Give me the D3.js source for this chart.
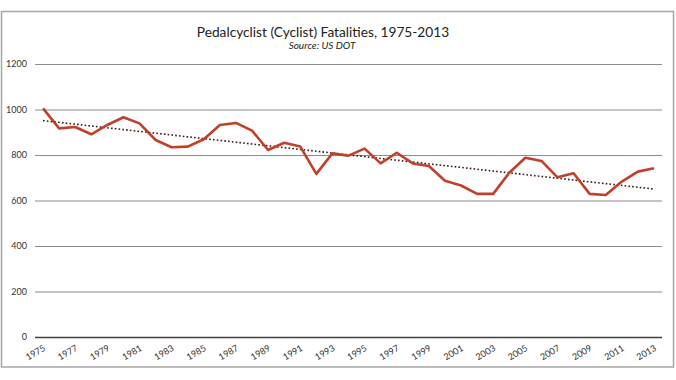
<!DOCTYPE html>
<html><head><meta charset="utf-8">
<script src="https://cdn.jsdelivr.net/npm/d3@7"></script>
<style>body{margin:0;background:#fff;} svg{display:block;}</style>
</head><body>
<svg id="c" width="676" height="380"></svg>
<script>
const years = d3.range(1975, 2014);
const fatalities = [1005, 917, 923, 891, 932, 966, 939, 866, 834, 837, 869, 932, 941, 907, 822, 854, 837, 717, 807, 797, 828, 763, 810, 763, 752, 687, 666, 629, 629, 722, 788, 774, 702, 720, 629, 624, 683, 727, 742];
const yTicks = [0, 200, 400, 600, 800, 1000, 1200];
const xTickLabels = years.filter((y, i) => i % 2 === 0);
const title = "Pedalcyclist (Cyclist) Fatalities, 1975-2013";
const subtitle = "Source:  US DOT";

const svg = d3.select("#c");
const font = "Lato, 'Open Sans', sans-serif";
const L = 35, R = 662, T = 64, B = 337;

svg.append("rect").attr("x", 1.5).attr("y", 11.5).attr("width", 672).attr("height", 355.5)
  .attr("fill", "#fff").attr("stroke", "#a6a6a6").attr("stroke-width", 1.5);

const x = d3.scaleBand().domain(years).range([L, R]);
const y = d3.scaleLinear().domain([0, 1200]).range([B, T]);
const cx = d => x(d) + x.bandwidth() / 2;

// gridlines
const yAxis = d3.axisLeft(y).tickValues(yTicks).tickFormat(d3.format("d")).tickSize(-(R - L)).tickPadding(8);
const gy = svg.append("g").attr("transform", `translate(${L},0)`).call(yAxis);
gy.select(".domain").remove();
gy.selectAll(".tick line").attr("stroke", d => d === 0 ? "#404040" : "#8c8c8c").attr("stroke-width", d => d === 0 ? 1.3 : 1.1);
gy.selectAll(".tick text").attr("font-family", font).attr("font-size", 9).attr("fill", "#333");

// x axis labels
const xAxis = d3.axisBottom(x).tickValues(xTickLabels).tickSize(0).tickPadding(0);
const gx = svg.append("g").attr("transform", `translate(0,${B})`).call(xAxis);
gx.select(".domain").remove();
gx.selectAll(".tick text").attr("font-family", font).attr("font-size", 9).attr("fill", "#333")
  .attr("text-anchor", "end").attr("dy", 0).attr("transform", "translate(3,13) rotate(-30)");

// trend line (linear regression)
const n = years.length;
const mx = d3.mean(years), my = d3.mean(fatalities);
let sxy = 0, sxx = 0;
years.forEach((yr, i) => { sxy += (yr - mx) * (fatalities[i] - my); sxx += (yr - mx) ** 2; });
const slope = sxy / sxx, icpt = my - slope * mx;
svg.append("line")
  .attr("x1", cx(years[0])).attr("y1", y(icpt + slope * years[0]))
  .attr("x2", cx(years[n - 1])).attr("y2", y(icpt + slope * years[n - 1]))
  .attr("stroke", "#3a1810").attr("stroke-width", 1.6).attr("stroke-dasharray", "1.6,2.2");

// data line
const line = d3.line().x((d, i) => cx(years[i])).y(d => y(d));
svg.append("path").datum(fatalities).attr("d", line)
  .attr("fill", "none").attr("stroke", "#c0402a").attr("stroke-width", 2.6).attr("stroke-linejoin", "round");

svg.append("text").attr("x", 323).attr("y", 37).attr("text-anchor", "middle")
  .attr("font-family", font).attr("font-size", 13.7).attr("fill", "#222").text(title);
svg.append("text").attr("x", 322).attr("y", 49).attr("text-anchor", "middle")
  .attr("font-family", font).attr("font-style", "italic").attr("font-size", 10).attr("fill", "#222").text(subtitle);
</script>
</body></html>
